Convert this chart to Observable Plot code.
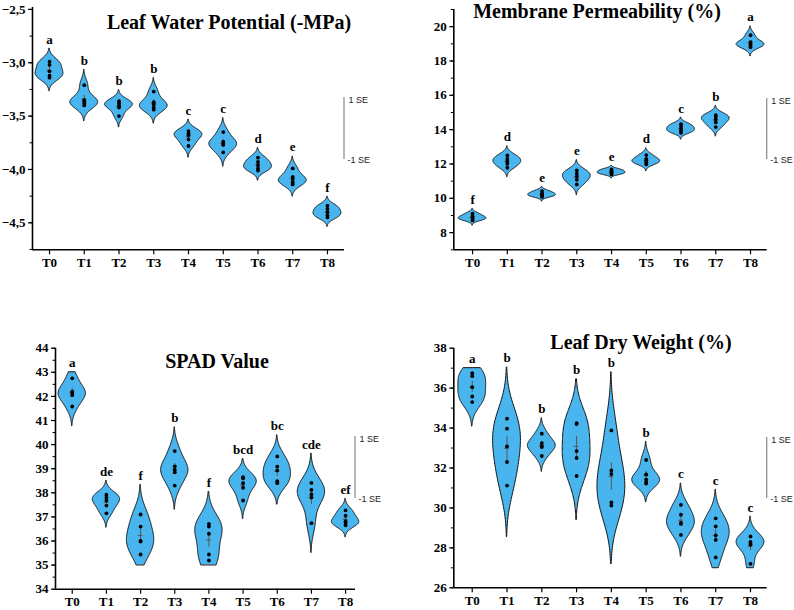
<!DOCTYPE html>
<html>
<head>
<meta charset="utf-8">
<script src="https://cdn.jsdelivr.net/npm/d3@7"></script>
<script src="https://cdn.jsdelivr.net/npm/@observablehq/plot@0.6"></script>
<style>
  html, body { margin: 0; padding: 0; background: #fff; }
  #root { position: relative; width: 794px; height: 610px; overflow: hidden; }
  .panel { position: absolute; }
  .panel svg { display: block; overflow: visible; }
  #overlay { position: absolute; left: 0; top: 0; pointer-events: none; }
</style>
</head>
<body>
<div id="root"></div>
<script>
// Treatments on the x axis
const treatments = ["T0", "T1", "T2", "T3", "T4", "T5", "T6", "T7", "T8"];

// Leaf water potential (-MPa), five replicates per treatment
const lwpValues = [
  [-2.99, -3.02, -3.08, -3.12, -3.14],
  [-3.21, -3.35, -3.36, -3.38, -3.40],
  [-3.36, -3.38, -3.40, -3.42, -3.50],
  [-3.27, -3.37, -3.39, -3.42, -3.44],
  [-3.64, -3.66, -3.68, -3.72, -3.78],
  [-3.65, -3.74, -3.76, -3.77, -3.84],
  [-3.89, -3.93, -3.96, -3.99, -4.01],
  [-3.99, -4.07, -4.09, -4.12, -4.14],
  [-4.34, -4.37, -4.40, -4.43, -4.45]
];
const lwpLetters = ["a", "b", "b", "b", "c", "c", "d", "e", "f"];
const lwpTicks = [-4.5, -4.0, -3.5, -3.0, -2.5];

// Membrane permeability (%)
const mpValues = [
  [9.10, 8.95, 8.85, 8.80, 8.71],
  [12.50, 12.30, 12.16, 12.01, 11.78],
  [10.42, 10.30, 10.22, 10.15, 10.08],
  [11.62, 11.43, 11.27, 11.08, 10.81],
  [11.68, 11.60, 11.52, 11.45, 11.39],
  [12.52, 12.30, 12.20, 12.10, 11.98],
  [14.32, 14.18, 14.05, 13.92, 13.82],
  [14.85, 14.75, 14.60, 14.42, 14.15],
  [19.50, 19.10, 19.00, 18.92, 18.80]
];
const mpLetters = ["f", "d", "e", "e", "e", "d", "c", "b", "a"];
const mpTicks = [8, 10, 12, 14, 16, 18, 20];

// SPAD value
const spadValues = [
  [42.75, 42.20, 42.15, 42.05, 41.58],
  [37.92, 37.80, 37.68, 37.47, 37.15],
  [37.10, 36.60, 36.00, 35.98, 35.44],
  [39.73, 39.10, 38.95, 38.85, 38.30],
  [36.71, 36.60, 36.30, 35.44, 35.19],
  [38.65, 38.60, 38.40, 38.21, 37.68],
  [39.51, 39.09, 38.93, 38.48, 38.40],
  [38.41, 38.12, 37.93, 37.80, 36.74],
  [37.27, 37.05, 36.82, 36.75, 36.65]
];
const spadLetters = ["a", "de", "f", "b", "f", "bcd", "bc", "cde", "ef"];
// density limits [low, high] per treatment (null = open)
const spadBounds = [[null, 43], [null, null], [35, null], [null, null], [35, null],
                    [null, null], [null, null], [null, null], [null, null]];
const spadTicks = [34, 35, 36, 37, 38, 39, 40, 41, 42, 43, 44];

// Leaf dry weight (%)
const ldwValues = [
  [36.75, 36.60, 36.05, 35.58, 35.30],
  [34.47, 33.97, 33.08, 32.30, 31.12],
  [33.72, 33.25, 33.10, 33.05, 32.60],
  [34.25, 34.20, 32.85, 32.50, 31.60],
  [33.88, 31.88, 31.70, 30.28, 30.12],
  [32.40, 31.68, 31.42, 31.30, 31.22],
  [30.15, 29.66, 29.25, 29.20, 28.65],
  [29.48, 29.08, 28.62, 28.40, 27.52],
  [28.57, 28.30, 28.20, 28.15, 27.20]
];
const ldwLetters = ["a", "b", "b", "b", "b", "b", "c", "c", "c"];
const ldwBounds = [[null, 37], [null, null], [null, null], [null, null], [null, null],
                   [null, null], [null, null], [27, null], [27, null]];
const ldwTicks = [26, 28, 30, 32, 34, 36, 38];

const FILL = "#49b5ef";
const SERIF = "'Liberation Serif', 'Times New Roman', serif";
const SANS = "'Liberation Sans', Arial, sans-serif";
const HALF = 0.4; // half-width of the widest part of each violin, in category units
const CUT = 2.5;  // how many bandwidths the density extends past the data

// Gaussian kernel density for one group (Scott's bandwidth), normalised to a max of 1
function violin(vals, lo, hi) {
  const n = vals.length;
  const sorted = vals.slice().sort(d3.ascending);
  const h = 1.06 * d3.deviation(vals) * Math.pow(n, -0.2);
  let a = sorted[0] - CUT * h, b = sorted[n - 1] + CUT * h;
  if (lo != null) a = Math.max(a, lo);
  if (hi != null) b = Math.min(b, hi);
  const steps = 120;
  const pts = d3.range(steps + 1).map(k => {
    const y = a + (b - a) * k / steps;
    return {y, d: d3.sum(vals, v => Math.exp(-0.5 * ((y - v) / h) ** 2))};
  });
  const maxD = d3.max(pts, p => p.d);
  return {pts: pts.map(p => ({y: p.y, w: p.d / maxD})), bottom: a, top: b};
}

function panel(cfg) {
  const shapes = [], points = [], stats = [];
  cfg.values.forEach((vals, i) => {
    const bnd = cfg.bounds ? cfg.bounds[i] : [null, null];
    const v = violin(vals, bnd[0], bnd[1]);
    v.pts.forEach(p => shapes.push({t: i, y: p.y, lo: i - HALF * p.w, hi: i + HALF * p.w}));
    vals.forEach(val => points.push({t: i, v: val}));
    const mean = d3.mean(vals);
    const se = d3.deviation(vals) / Math.sqrt(vals.length);
    stats.push({t: i, mean, lo: mean - se, hi: mean + se, top: v.top, letter: cfg.letters[i]});
  });
  const [y0, y1] = cfg.yDomain;
  const minor = d3.range(Math.ceil(y0 / cfg.minorStep), Math.floor(y1 / cfg.minorStep) + 1)
    .map(k => +(k * cfg.minorStep).toFixed(4));

  const chart = Plot.plot({
    width: cfg.width,
    height: cfg.height,
    marginLeft: cfg.margin[3],
    marginRight: cfg.margin[1],
    marginTop: cfg.margin[0],
    marginBottom: cfg.margin[2],
    style: {fontFamily: SERIF, fontWeight: "bold", fontSize: "13px", color: "#000", background: "transparent", overflow: "visible"},
    x: {domain: cfg.xDomain},
    y: {domain: cfg.yDomain},
    marks: [
      Plot.areaX(shapes, {y: "y", x1: "lo", x2: "hi", z: "t", fill: FILL, stroke: "#111", strokeWidth: 1, curve: "linear"}),
      Plot.ruleX(stats, {x: "t", y1: "lo", y2: "hi", stroke: "#555", strokeWidth: 1}),
      Plot.ruleY(stats, {y: "mean", x1: d => d.t - 0.07, x2: d => d.t + 0.07, stroke: "#555", strokeWidth: 1}),
      Plot.dot(points, {x: "t", y: "v", r: 1.9, fill: "#000", stroke: null}),
      Plot.text(stats, {x: "t", y: "top", text: "letter", lineAnchor: "bottom", dy: -5, fontSize: 13, fontWeight: "bold", fontFamily: SERIF, fill: "#000"}),
      Plot.axisY(minor, {tickSize: 2.5, tickFormat: () => "", label: null, stroke: "#000"}),
      Plot.axisY(cfg.ticks, {tickSize: 4, tickPadding: 3, tickFormat: cfg.tickFormat, label: null, stroke: "#000", strokeWidth: 1.2}),
      Plot.axisX(d3.range(treatments.length), {tickSize: 5, tickPadding: 3, tickFormat: i => treatments[i], label: null, stroke: "#000", strokeWidth: 1.2}),
      Plot.ruleX([cfg.xDomain[0]], {stroke: "#000", strokeWidth: 1.6}),
      Plot.ruleY([cfg.yDomain[0]], {stroke: "#000", strokeWidth: 1.6})
    ]
  });
  const div = document.createElement("div");
  div.className = "panel";
  div.style.left = cfg.left + "px";
  div.style.top = cfg.top + "px";
  div.appendChild(chart);
  document.getElementById("root").appendChild(div);
}

const commaDecimal = d => (d < 0 ? "\u2212" : "") + Math.abs(d).toFixed(1).replace(".", ",");

panel({
  left: 0, top: 0, width: 380, height: 280, margin: [7, 36, 30.7, 32],
  xDomain: [-0.49, 8.49], yDomain: [-4.753, -2.482],
  values: lwpValues, letters: lwpLetters, ticks: lwpTicks, tickFormat: commaDecimal, minorStep: 0.25
});
panel({
  left: 400, top: 0, width: 394, height: 280, margin: [9, 27.3, 30.7, 53.3],
  xDomain: [-0.54, 8.48], yDomain: [7, 21],
  values: mpValues, letters: mpLetters, ticks: mpTicks, tickFormat: d => String(d), minorStep: 1
});
panel({
  left: 0, top: 300, width: 397, height: 310, margin: [47.7, 42, 21.3, 55],
  xDomain: [-0.49, 8.29], yDomain: [34, 44],
  values: spadValues, letters: spadLetters, bounds: spadBounds, ticks: spadTicks, tickFormat: d => String(d), minorStep: 0.5
});
panel({
  left: 400, top: 300, width: 394, height: 310, margin: [47.7, 27.3, 22.7, 53.3],
  xDomain: [-0.53, 8.48], yDomain: [26, 38],
  values: ldwValues, letters: ldwLetters, bounds: ldwBounds, ticks: ldwTicks, tickFormat: d => String(d), minorStep: 1
});

// Titles and the ±1 SE scale bars
const titles = [
  {text: "Leaf Water Potential (-MPa)", x: 229, y: 29},
  {text: "Membrane Permeability (%)", x: 597, y: 18},
  {text: "SPAD Value", x: 217, y: 368},
  {text: "Leaf Dry Weight (%)", x: 641, y: 349}
];
const seBars = [
  {x: 344, y1: 97, y2: 159},
  {x: 766.7, y1: 98, y2: 159},
  {x: 355, y1: 436, y2: 498},
  {x: 766.7, y1: 437, y2: 498}
];
const overlay = d3.select("#root").append("svg")
  .attr("id", "overlay").attr("width", 794).attr("height", 610);
overlay.selectAll("text.title").data(titles).join("text")
  .attr("class", "title")
  .attr("x", d => d.x).attr("y", d => d.y)
  .attr("text-anchor", "middle")
  .attr("font-family", SERIF).attr("font-weight", "bold").attr("font-size", 20)
  .text(d => d.text);
const se = overlay.selectAll("g.se").data(seBars).join("g").attr("class", "se");
se.append("line")
  .attr("x1", d => d.x).attr("x2", d => d.x)
  .attr("y1", d => d.y1).attr("y2", d => d.y2)
  .attr("stroke", "#888").attr("stroke-width", 1.2);
se.append("text")
  .attr("x", d => d.x + 4.5).attr("y", d => d.y1 + 3)
  .attr("dy", "0.32em")
  .attr("font-family", SANS).attr("font-size", 9).attr("fill", "#222")
  .text("1 SE");
se.append("text")
  .attr("x", d => d.x + 3.5).attr("y", d => d.y2 + 1)
  .attr("dy", "0.32em")
  .attr("font-family", SANS).attr("font-size", 9).attr("fill", "#222")
  .text("-1 SE");
</script>
</body>
</html>
